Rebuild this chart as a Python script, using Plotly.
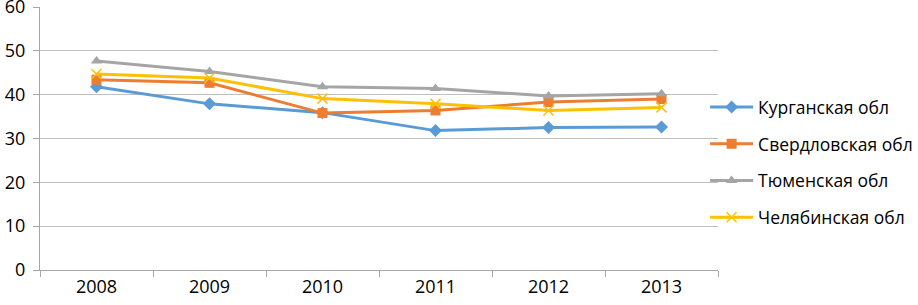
import plotly.graph_objects as go

years = ["2008", "2009", "2010", "2011", "2012", "2013"]
kurgan = [41.8, 37.9, 35.9, 31.8, 32.5, 32.6]
sverdl = [43.4, 42.7, 35.8, 36.4, 38.3, 39.0]
tyumen = [47.7, 45.3, 41.8, 41.4, 39.7, 40.2]
chelyab = [44.7, 43.8, 39.1, 37.9, 36.4, 37.1]
names = ["Курганская обл", "Свердловская обл", "Тюменская обл", "Челябинская обл"]
colors = ["#5B9BD5", "#ED7D31", "#A5A5A5", "#FFC000"]
symbols = ["diamond", "square", "triangle-up", "x-thin"]
series = [kurgan, sverdl, tyumen, chelyab]

fig = go.Figure()
for i, (n, vals) in enumerate(zip(names, series)):
    fig.add_trace(go.Scatter(
        x=years, y=vals, name=n, mode="lines+markers",
        line=dict(color=colors[i], width=3),
        marker=dict(symbol=symbols[i], size=10, color=colors[i],
                    line=dict(color=colors[i], width=1.5 if i == 3 else 0)),
        legendgroup=str(i),
    ))

fig.update_layout(
    width=918, height=305,
    margin=dict(l=40, r=200, t=7, b=35, autoexpand=False),
    plot_bgcolor="white", paper_bgcolor="white",
    font=dict(family="Open Sans", size=18, color="#000000"),
    showlegend=True,
    legend=dict(x=0.981, xanchor="left", y=0.41, yanchor="middle",
                font=dict(size=17.5), tracegroupgap=11, itemwidth=43,
                bgcolor="rgba(0,0,0,0)"),
    xaxis=dict(type="category", showgrid=False, showline=True, linecolor="#A6A6A6",
               linewidth=1, ticks="outside", ticklen=6, tickcolor="#A6A6A6",
               tickson="boundaries", range=[-0.5, 5.5], zeroline=False,
               automargin=False),
    yaxis=dict(range=[0, 60], dtick=10, showgrid=True, gridcolor="#BFBFBF", gridwidth=1,
               showline=True, linecolor="#A6A6A6", ticks="outside", ticklen=6,
               tickcolor="#A6A6A6", zeroline=False, ticklabelstandoff=4,
               automargin=False, ticklabeloverflow="allow"),
)
fig.write_html("out.html", config={"displayModeBar": False},
               post_script="document.body.style.margin='0';document.body.style.overflow='hidden';")
